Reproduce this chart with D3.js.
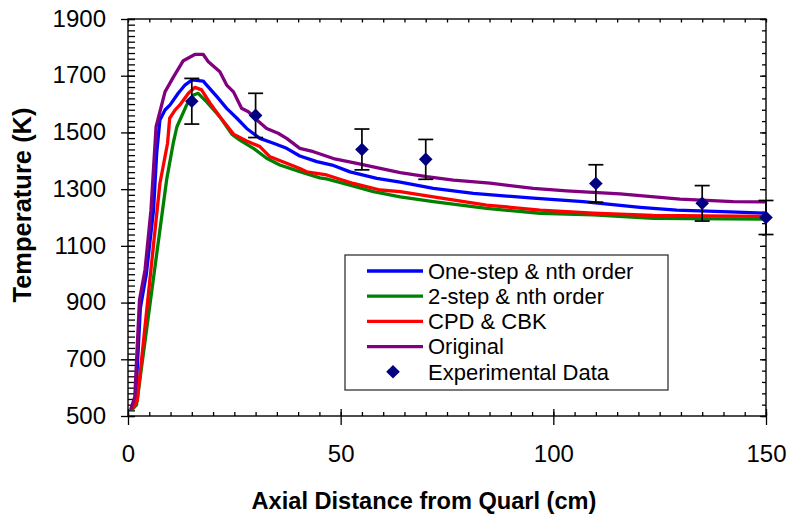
<!DOCTYPE html>
<html>
<head>
<meta charset="utf-8">
<script src="https://cdn.jsdelivr.net/npm/d3@7"></script>
<style>
  html, body { margin: 0; padding: 0; background: #fff; }
  svg { display: block; font-family: Arial, "Liberation Sans", sans-serif; }
</style>
</head>
<body>
<svg id="chart" width="789" height="514"></svg>
<script>
// Axial distance (cm) / temperature (K) profiles for each model
const oneStep = [
  [0.8,523],[1.8,560],[2.9,880],[4.3,1000],[6.0,1226],[6.74,1426],[7.5,1544],[8.7,1579],
  [9.9,1597],[11.8,1638],[13.4,1667],[15,1685],[17.7,1681],[18.5,1667],[20.9,1626],[23.2,1585],
  [25.6,1550],[27.9,1514],[31,1479],[34.2,1462],[37.3,1444],[40.4,1417],[44.4,1397],[48,1385],
  [52.2,1361],[58.5,1338],[64,1325],[71.8,1303],[81.2,1285],[95.3,1268],[107,1256],[120.4,1236],
  [129,1226],[141.5,1220],[150,1215]
];
const twoStep = [
  [0.8,520],[2.0,539],[9.1,1335],[10.7,1467],[11.5,1520],[13.8,1597],[15.4,1632],[16.5,1638],
  [18.5,1608],[20.9,1567],[21.6,1555],[24.4,1494],[26.3,1473],[29.5,1444],[32.6,1409],[35.7,1385],
  [40.4,1362],[45.1,1340],[46.7,1336],[52.2,1314],[57.7,1291],[64,1273],[71.8,1256],[84.3,1232],
  [96.9,1215],[109.4,1209],[123.5,1197],[150,1194]
];
const cpdCbk = [
  [0.9,522],[2.2,556],[7.5,1320],[9.3,1462],[9.8,1550],[11.05,1579],[12.2,1597],[14.2,1638],
  [15.75,1659],[17.3,1650],[19.3,1603],[21.6,1555],[24.8,1494],[27.9,1470],[31,1450],[33.4,1414],
  [37.3,1391],[40.4,1373],[42,1361],[46.7,1350],[53,1320],[59.3,1297],[64,1291],[71.8,1273],
  [84.3,1244],[96.9,1226],[109.4,1215],[123.5,1207],[150,1204]
];
const original = [
  [0.6,521],[1.6,568],[2.7,909],[4.0,1015],[5.4,1226],[6.6,1520],[8.7,1643],[10.7,1696],
  [13,1753],[15.7,1775],[17.7,1775],[18.9,1749],[21.6,1714],[23.2,1667],[24.8,1643],[26.7,1585],
  [28.3,1573],[30.3,1544],[32.6,1514],[35.3,1497],[37.3,1479],[40.4,1444],[43.6,1432],[48.3,1408],
  [53.8,1391],[59.3,1373],[64,1358],[70.2,1344],[76.5,1332],[85.1,1321],[95.3,1303],[103.1,1294],
  [115.7,1283],[129.8,1265],[142.3,1256],[150,1255]
];
// Measured temperatures with +/-5 % uncertainty
const expDistance = [15, 30, 55, 70, 110, 135, 150];
const expTemperature = [1610, 1560, 1440, 1405, 1320, 1250, 1200];
const expErrorFraction = 0.05;

const xTicks = [0, 50, 100, 150];
const yTicks = [500, 700, 900, 1100, 1300, 1500, 1700, 1900];

const seriesNames = ["One-step & nth order", "2-step & nth order", "CPD & CBK", "Original"];
const seriesColors = ["#0000ff", "#008000", "#ff0000", "#800080"];
const seriesData = [oneStep, twoStep, cpdCbk, original];

const svg = d3.select("#chart");
svg.append("rect").attr("width", 789).attr("height", 514).attr("fill", "#fff");

const x = d3.scaleLinear().domain([0, 150]).range([128, 766]);
const y = d3.scaleLinear().domain([500, 1900]).range([416, 19]);

const axisStyle = g => {
  g.selectAll("path.domain").remove();
  g.selectAll("line").attr("stroke", "#000").attr("stroke-width", 1.3);
};

// minor ticks (inside the frame)
svg.append("g").attr("transform", `translate(0,416)`)
  .call(d3.axisBottom(x).tickValues(d3.range(0, 151, 5)).tickSize(-4).tickFormat(""))
  .call(axisStyle);
svg.append("g").attr("transform", `translate(0,19)`)
  .call(d3.axisTop(x).tickValues(d3.range(0, 151, 5)).tickSize(-3.5).tickFormat(""))
  .call(axisStyle);
svg.append("g").attr("transform", `translate(128,0)`)
  .call(d3.axisLeft(y).tickValues(d3.range(500, 1901, 20)).tickSize(-7).tickFormat(""))
  .call(axisStyle);
svg.append("g").attr("transform", `translate(766,0)`)
  .call(d3.axisRight(y).tickValues(d3.range(500, 1901, 40)).tickSize(-4).tickFormat(""))
  .call(axisStyle);
svg.append("g").attr("transform", `translate(766,0)`)
  .call(d3.axisRight(y).tickValues(yTicks).tickSize(-6).tickFormat(""))
  .call(axisStyle);

// major ticks crossing the axis, with labels
const bottom = svg.append("g").attr("transform", `translate(0,416)`)
  .call(d3.axisBottom(x).tickValues(xTicks).tickSize(9).tickPadding(20).tickFormat(d3.format("d")))
  .call(axisStyle);
bottom.selectAll(".tick").append("line").attr("y2", -7).attr("stroke", "#000").attr("stroke-width", 1.3);
bottom.selectAll("text").attr("font-size", 24).attr("fill", "#000")
  .attr("font-family", "Arial, 'Liberation Sans', sans-serif");

const left = svg.append("g").attr("transform", `translate(128,0)`)
  .call(d3.axisLeft(y).tickValues(yTicks).tickSize(7).tickPadding(15).tickFormat(d3.format("d")))
  .call(axisStyle);
left.selectAll(".tick").append("line").attr("x2", 7).attr("stroke", "#000").attr("stroke-width", 1.3);
left.selectAll("text").attr("font-size", 24).attr("fill", "#000").attr("dy", "0.3em")
  .attr("font-family", "Arial, 'Liberation Sans', sans-serif");

// frame
svg.append("rect").attr("x", 128).attr("y", 19).attr("width", 766 - 128).attr("height", 416 - 19)
  .attr("fill", "none").attr("stroke", "#000").attr("stroke-width", 1.4);

// model curves
const line = d3.line().x(d => x(d[0])).y(d => y(d[1]));
seriesData.forEach((data, i) => {
  svg.append("path").datum(data)
    .attr("d", line)
    .attr("fill", "none")
    .attr("stroke", seriesColors[i])
    .attr("stroke-width", 3.3)
    .attr("stroke-linejoin", "round");
});

// experimental data with error bars
const expData = expDistance.map((d, i) => ({ x: d, t: expTemperature[i] }));
const err = svg.append("g").attr("stroke", "#000").attr("stroke-width", 1.7);
expData.forEach(d => {
  const hi = y(d.t * (1 + expErrorFraction)), lo = y(d.t * (1 - expErrorFraction)), cx = x(d.x);
  err.append("line").attr("x1", cx).attr("x2", cx).attr("y1", hi).attr("y2", lo);
  err.append("line").attr("x1", cx - 7.5).attr("x2", cx + 7.5).attr("y1", hi).attr("y2", hi);
  err.append("line").attr("x1", cx - 7.5).attr("x2", cx + 7.5).attr("y1", lo).attr("y2", lo);
});
const diamond = "M0,-6.8L6.8,0L0,6.8L-6.8,0Z";
svg.append("g").selectAll("path").data(expData).join("path")
  .attr("d", diamond)
  .attr("transform", d => `translate(${x(d.x)},${y(d.t)})`)
  .attr("fill", "#000080");

// legend
const lg = svg.append("g");
lg.append("rect").attr("x", 345).attr("y", 255).attr("width", 323).attr("height", 135)
  .attr("fill", "#fff").attr("stroke", "#333").attr("stroke-width", 1.3);
const rowY = i => 271 + i * 25.2;
seriesNames.forEach((name, i) => {
  lg.append("line").attr("x1", 367).attr("x2", 423).attr("y1", rowY(i)).attr("y2", rowY(i))
    .attr("stroke", seriesColors[i]).attr("stroke-width", 3.3);
  lg.append("text").attr("x", 428).attr("y", rowY(i)).attr("dy", "0.35em")
    .attr("font-size", 22).text(name);
});
lg.append("path").attr("d", diamond).attr("transform", `translate(393,${rowY(4)})`).attr("fill", "#000080");
lg.append("text").attr("x", 428).attr("y", rowY(4)).attr("dy", "0.35em")
  .attr("font-size", 22).text("Experimental Data");

// axis titles
svg.append("text").attr("x", 424).attr("y", 509).attr("text-anchor", "middle")
  .attr("font-size", 23.6).attr("font-weight", "bold").text("Axial Distance from Quarl (cm)");
svg.append("text").attr("transform", "translate(31,205) rotate(-90)").attr("text-anchor", "middle")
  .attr("font-size", 25.5).attr("font-weight", "bold").text("Temperature (K)");
</script>
</body>
</html>
